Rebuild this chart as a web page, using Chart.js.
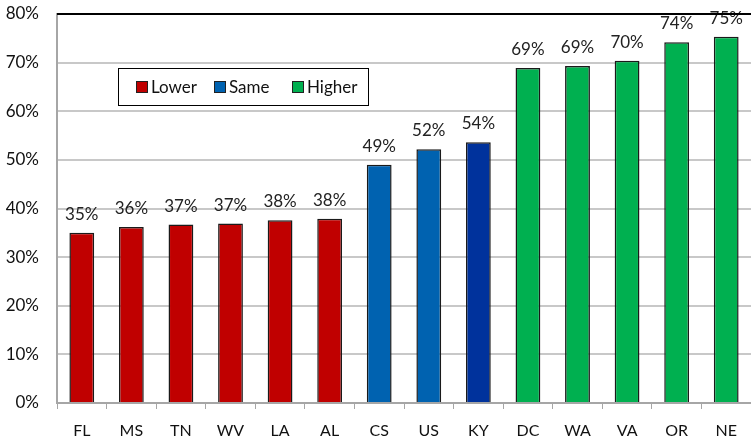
<!DOCTYPE html>
<html>
<head>
<meta charset="utf-8">
<script src="https://cdn.jsdelivr.net/npm/chart.js@4/dist/chart.umd.min.js"></script>
<style>
  html, body { margin: 0; padding: 0; background: #fff; }
  #wrap { width: 751px; height: 439px; position: relative; }
</style>
</head>
<body>
<div id="wrap"><canvas id="chart"></canvas></div>
<script>
const states = ['FL', 'MS', 'TN', 'WV', 'LA', 'AL', 'CS', 'US', 'KY', 'DC', 'WA', 'VA', 'OR', 'NE'];
const shares = [35.0, 36.2, 36.7, 36.9, 37.6, 37.9, 49.0, 52.2, 53.6, 68.9, 69.3, 70.4, 74.2, 75.3];
const groups = ['Lower', 'Lower', 'Lower', 'Lower', 'Lower', 'Lower', 'Same', 'Same', 'Same',
                'Higher', 'Higher', 'Higher', 'Higher', 'Higher'];
const legendNames = ['Lower', 'Same', 'Higher'];
const yTicks = [0, 10, 20, 30, 40, 50, 60, 70, 80];

const groupColors = { Lower: '#c00000', Same: '#0062b0', Higher: '#00b050' };
const barColors = groups.map((g, i) => states[i] === 'KY' ? '#00329c' : groupColors[g]);

const FONT = 'Lato, "Open Sans", sans-serif';

// value labels above each bar, then the black frame line on top of everything
const overlay = {
    id: 'overlay',
    afterDatasetsDraw(chart) {
        const ctx = chart.ctx;
        const meta = chart.getDatasetMeta(0);
        ctx.save();
        ctx.font = '17px ' + FONT;
        ctx.fillStyle = '#222';
        ctx.textAlign = 'center';
        ctx.textBaseline = 'bottom';
        meta.data.forEach((bar, i) => {
            ctx.fillText(Math.round(shares[i]) + '%', bar.x, bar.y - 10);
        });
        ctx.restore();
    },
    afterDraw(chart) {
        const ctx = chart.ctx;
        const area = chart.chartArea;
        ctx.save();

        // frame top line
        ctx.strokeStyle = '#000';
        ctx.lineWidth = 2;
        ctx.beginPath();
        ctx.moveTo(area.left, area.top);
        ctx.lineTo(area.right, area.top);
        ctx.stroke();

        // legend box
        const bx = 118.5, by = 68.5, bw = 250, bh = 37;
        ctx.fillStyle = '#fff';
        ctx.fillRect(bx, by, bw, bh);
        ctx.strokeStyle = '#000';
        ctx.lineWidth = 1;
        ctx.strokeRect(bx, by, bw, bh);

        ctx.font = '17px ' + FONT;
        ctx.textBaseline = 'middle';
        ctx.textAlign = 'left';
        const starts = [136, 214, 292];
        legendNames.forEach((name, i) => {
            const x = starts[i];
            const y = by + bh / 2;
            ctx.fillStyle = groupColors[name];
            ctx.fillRect(x + 0.5, y - 5.5, 11, 11);
            ctx.strokeStyle = '#222';
            ctx.strokeRect(x + 0.5, y - 5.5, 11, 11);
            ctx.fillStyle = '#111';
            ctx.fillText(name, x + 15, y + 1);
        });
        ctx.restore();
    }
};

new Chart(document.getElementById('chart'), {
    type: 'bar',
    data: {
        labels: states,
        datasets: [{
            data: shares,
            backgroundColor: barColors,
            borderColor: '#1a1a1a',
            borderWidth: 1.5,
            barPercentage: 0.5,
            categoryPercentage: 1.0
        }]
    },
    options: {
        responsive: true,
        maintainAspectRatio: false,
        animation: false,
        layout: { padding: { top: 14, right: 0, left: 0, bottom: 0 }, autoPadding: false },
        plugins: {
            legend: { display: false },
            tooltip: { enabled: false }
        },
        scales: {
            x: {
                grid: {
                    offset: true,
                    drawOnChartArea: false,
                    tickLength: 6,
                    color: '#a6a6a6'
                },
                border: { color: '#a6a6a6', width: 2 },
                ticks: {
                    color: '#111',
                    padding: 12,
                    font: { family: FONT, size: 16 }
                },
                afterFit(scale) { scale.height = 36; }
            },
            y: {
                min: 0,
                max: 80,
                afterBuildTicks(scale) {
                    scale.ticks = yTicks.map(v => ({ value: v }));
                },
                grid: {
                    color: '#c8c8c8',
                    lineWidth: 2,
                    tickLength: 0
                },
                border: { color: '#a6a6a6', width: 2 },
                ticks: {
                    color: '#111',
                    padding: 18,
                    font: { family: FONT, size: 17 },
                    callback: v => v + '%'
                },
                afterFit(scale) {
                    scale.width = 57;
                    scale.paddingTop = 0;
                    scale.paddingBottom = 0;
                }
            }
        }
    },
    plugins: [overlay]
});
</script>
</body>
</html>
